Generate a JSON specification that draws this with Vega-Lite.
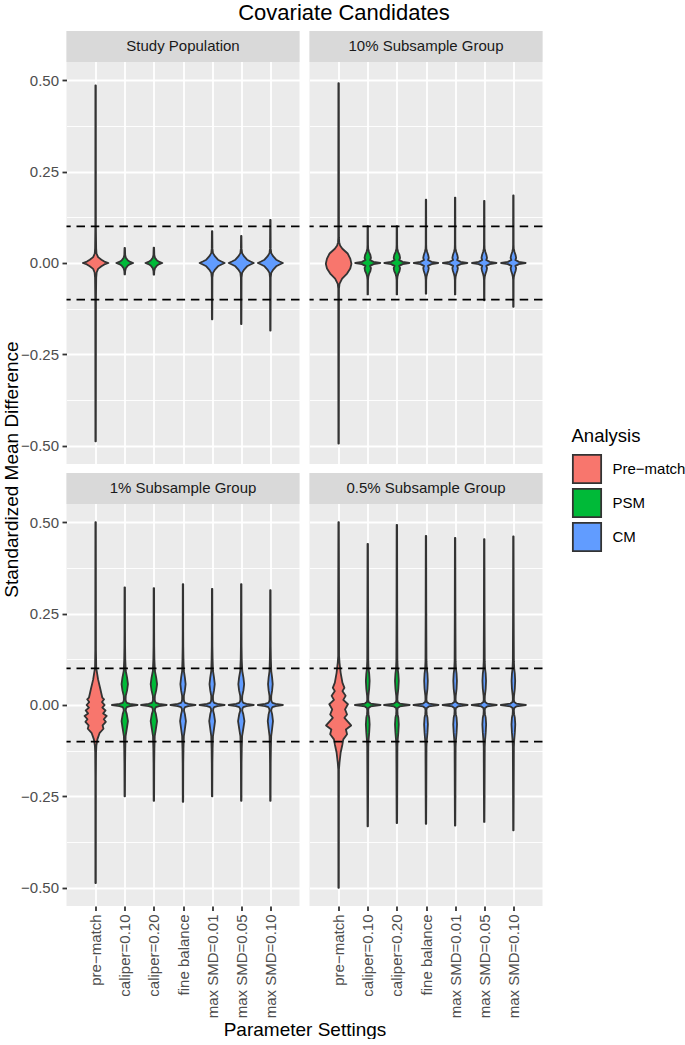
{
  "$schema": "https://vega.github.io/schema/vega-lite/v6.json",
  "background": "white",
  "padding": {"left": 2.5, "top": 2, "right": 0, "bottom": 0},
  "title": {"text": "Covariate Candidates", "fontSize": 22, "fontWeight": "normal", "color": "#000000", "anchor": "middle", "offset": 6, "font": "Liberation Sans"},
  "datasets": {
    "violins": [
      {"panel": "Study Population", "setting": "pre-match", "analysis": "Pre-match", "smd": [0.486,0.1,0.04,0.026,0.016,0.009,0.004,0,-0.004,-0.009,-0.016,-0.026,-0.04,-0.1,-0.488], "hw": [0.008,0.01,0.018,0.03,0.085,0.2,0.3,0.44,0.3,0.2,0.085,0.035,0.02,0.012,0.008]},
      {"panel": "Study Population", "setting": "caliper=0.10", "analysis": "PSM", "smd": [0.041,0.022,0.014,0.007,0.003,0,-0.003,-0.007,-0.014,-0.022,-0.031], "hw": [0.008,0.015,0.04,0.11,0.19,0.29,0.19,0.11,0.04,0.015,0.008]},
      {"panel": "Study Population", "setting": "caliper=0.20", "analysis": "PSM", "smd": [0.042,0.022,0.014,0.007,0.003,0,-0.003,-0.007,-0.014,-0.022,-0.032], "hw": [0.008,0.015,0.04,0.11,0.19,0.29,0.19,0.11,0.04,0.015,0.008]},
      {"panel": "Study Population", "setting": "max SMD=0.01", "analysis": "CM", "smd": [0.087,0.04,0.027,0.018,0.009,0.004,0,-0.004,-0.009,-0.018,-0.027,-0.04,-0.154], "hw": [0.008,0.012,0.03,0.1,0.2,0.32,0.43,0.32,0.2,0.1,0.03,0.012,0.008]},
      {"panel": "Study Population", "setting": "max SMD=0.05", "analysis": "CM", "smd": [0.074,0.04,0.027,0.018,0.009,0.004,0,-0.004,-0.009,-0.018,-0.027,-0.04,-0.167], "hw": [0.008,0.012,0.03,0.1,0.2,0.32,0.43,0.32,0.2,0.1,0.03,0.012,0.008]},
      {"panel": "Study Population", "setting": "max SMD=0.10", "analysis": "CM", "smd": [0.118,0.04,0.027,0.018,0.009,0.004,0,-0.004,-0.009,-0.018,-0.027,-0.04,-0.185], "hw": [0.008,0.012,0.03,0.1,0.2,0.32,0.43,0.32,0.2,0.1,0.03,0.012,0.008]},

      {"panel": "10% Subsample Group", "setting": "pre-match", "analysis": "Pre-match", "smd": [0.492,0.07,0.057,0.048,0.039,0.026,0.012,-0.002,-0.015,-0.029,-0.043,-0.057,-0.07,-0.494], "hw": [0.008,0.012,0.02,0.05,0.13,0.31,0.4,0.44,0.4,0.29,0.12,0.03,0.012,0.008]},
      {"panel": "10% Subsample Group", "setting": "caliper=0.10", "analysis": "PSM", "smd": [0.101,0.05,0.039,0.03,0.022,0.014,0.008,0.003,0,-0.003,-0.008,-0.014,-0.022,-0.03,-0.038,-0.046,-0.086], "hw": [0.008,0.01,0.015,0.045,0.09,0.11,0.08,0.2,0.43,0.2,0.08,0.11,0.09,0.045,0.02,0.01,0.008]},
      {"panel": "10% Subsample Group", "setting": "caliper=0.20", "analysis": "PSM", "smd": [0.101,0.05,0.039,0.03,0.022,0.014,0.008,0.003,0,-0.003,-0.008,-0.014,-0.022,-0.03,-0.038,-0.046,-0.086], "hw": [0.008,0.01,0.015,0.045,0.09,0.11,0.08,0.2,0.43,0.2,0.08,0.11,0.09,0.045,0.02,0.01,0.008]},
      {"panel": "10% Subsample Group", "setting": "fine balance", "analysis": "CM", "smd": [0.173,0.05,0.039,0.03,0.022,0.014,0.008,0.003,0,-0.003,-0.008,-0.014,-0.022,-0.03,-0.038,-0.046,-0.084], "hw": [0.008,0.01,0.014,0.04,0.075,0.095,0.07,0.19,0.42,0.19,0.07,0.095,0.075,0.04,0.018,0.01,0.008]},
      {"panel": "10% Subsample Group", "setting": "max SMD=0.01", "analysis": "CM", "smd": [0.179,0.05,0.039,0.03,0.022,0.014,0.008,0.003,0,-0.003,-0.008,-0.014,-0.022,-0.03,-0.038,-0.046,-0.086], "hw": [0.008,0.01,0.014,0.04,0.075,0.095,0.07,0.19,0.42,0.19,0.07,0.095,0.075,0.04,0.018,0.01,0.008]},
      {"panel": "10% Subsample Group", "setting": "max SMD=0.05", "analysis": "CM", "smd": [0.17,0.05,0.039,0.03,0.022,0.014,0.008,0.003,0,-0.003,-0.008,-0.014,-0.022,-0.03,-0.038,-0.046,-0.102], "hw": [0.008,0.01,0.014,0.04,0.075,0.095,0.07,0.19,0.42,0.19,0.07,0.095,0.075,0.04,0.018,0.01,0.008]},
      {"panel": "10% Subsample Group", "setting": "max SMD=0.10", "analysis": "CM", "smd": [0.185,0.05,0.039,0.03,0.022,0.014,0.008,0.003,0,-0.003,-0.008,-0.014,-0.022,-0.03,-0.038,-0.046,-0.12], "hw": [0.008,0.01,0.014,0.04,0.075,0.095,0.07,0.19,0.42,0.19,0.07,0.095,0.075,0.04,0.018,0.01,0.008]},

      {"panel": "1% Subsample Group", "setting": "pre-match", "analysis": "Pre-match", "smd": [0.5,0.152,0.102,0.07,0.043,0.02,0.0155,0.008,0,-0.007,-0.015,-0.023,-0.03,-0.039,-0.046,-0.056,-0.065,-0.076,-0.094,-0.112,-0.13,-0.2,-0.487], "hw": [0.008,0.012,0.02,0.084,0.164,0.23,0.29,0.22,0.31,0.23,0.34,0.26,0.38,0.28,0.35,0.24,0.27,0.14,0.06,0.025,0.015,0.01,0.008]},
      {"panel": "1% Subsample Group", "setting": "caliper=0.10", "analysis": "PSM", "smd": [0.322,0.2,0.16,0.125,0.093,0.075,0.057,0.04,0.025,0.015,0.01,0.006,0.003,0,-0.003,-0.006,-0.01,-0.016,-0.025,-0.044,-0.065,-0.085,-0.12,-0.16,-0.25], "hw": [0.008,0.01,0.012,0.018,0.035,0.08,0.11,0.08,0.035,0.03,0.04,0.07,0.18,0.44,0.18,0.07,0.04,0.035,0.07,0.11,0.07,0.03,0.018,0.012,0.008]},
      {"panel": "1% Subsample Group", "setting": "caliper=0.20", "analysis": "PSM", "smd": [0.32,0.2,0.16,0.125,0.093,0.075,0.057,0.04,0.025,0.015,0.01,0.006,0.003,0,-0.003,-0.006,-0.01,-0.016,-0.025,-0.044,-0.065,-0.085,-0.12,-0.16,-0.262], "hw": [0.008,0.01,0.012,0.018,0.035,0.08,0.11,0.08,0.035,0.03,0.04,0.07,0.18,0.44,0.18,0.07,0.04,0.035,0.07,0.11,0.07,0.03,0.018,0.012,0.008]},
      {"panel": "1% Subsample Group", "setting": "fine balance", "analysis": "CM", "smd": [0.331,0.2,0.16,0.125,0.093,0.075,0.057,0.04,0.025,0.015,0.01,0.006,0.003,0,-0.003,-0.006,-0.01,-0.016,-0.025,-0.044,-0.065,-0.085,-0.12,-0.16,-0.265], "hw": [0.008,0.01,0.012,0.018,0.03,0.065,0.09,0.065,0.03,0.03,0.04,0.07,0.18,0.43,0.18,0.07,0.04,0.035,0.065,0.1,0.065,0.03,0.018,0.012,0.008]},
      {"panel": "1% Subsample Group", "setting": "max SMD=0.01", "analysis": "CM", "smd": [0.318,0.2,0.16,0.125,0.093,0.075,0.057,0.04,0.025,0.015,0.01,0.006,0.003,0,-0.003,-0.006,-0.01,-0.016,-0.025,-0.044,-0.065,-0.085,-0.12,-0.16,-0.25], "hw": [0.008,0.01,0.012,0.018,0.03,0.065,0.09,0.065,0.03,0.03,0.04,0.07,0.18,0.43,0.18,0.07,0.04,0.035,0.065,0.1,0.065,0.03,0.018,0.012,0.008]},
      {"panel": "1% Subsample Group", "setting": "max SMD=0.05", "analysis": "CM", "smd": [0.331,0.2,0.16,0.125,0.093,0.075,0.057,0.04,0.025,0.015,0.01,0.006,0.003,0,-0.003,-0.006,-0.01,-0.016,-0.025,-0.044,-0.065,-0.085,-0.12,-0.16,-0.262], "hw": [0.008,0.01,0.012,0.018,0.035,0.075,0.1,0.075,0.035,0.03,0.04,0.07,0.18,0.43,0.18,0.07,0.04,0.035,0.07,0.11,0.07,0.03,0.018,0.012,0.008]},
      {"panel": "1% Subsample Group", "setting": "max SMD=0.10", "analysis": "CM", "smd": [0.314,0.2,0.16,0.125,0.093,0.075,0.057,0.04,0.025,0.015,0.01,0.006,0.003,0,-0.003,-0.006,-0.01,-0.016,-0.025,-0.044,-0.065,-0.085,-0.12,-0.16,-0.262], "hw": [0.008,0.01,0.012,0.018,0.03,0.06,0.08,0.06,0.03,0.028,0.04,0.07,0.18,0.43,0.18,0.07,0.04,0.03,0.06,0.09,0.06,0.028,0.018,0.012,0.008]},

      {"panel": "0.5% Subsample Group", "setting": "pre-match", "analysis": "Pre-match", "smd": [0.5,0.26,0.134,0.116,0.088,0.061,0.047,0.038,0.025,0.014,0.002,-0.012,-0.026,-0.035,-0.056,-0.067,-0.08,-0.094,-0.108,-0.13,-0.158,-0.176,-0.25,-0.5], "hw": [0.008,0.015,0.015,0.03,0.07,0.13,0.2,0.13,0.24,0.16,0.32,0.22,0.29,0.2,0.43,0.25,0.29,0.16,0.13,0.07,0.03,0.012,0.01,0.008]},
      {"panel": "0.5% Subsample Group", "setting": "caliper=0.10", "analysis": "PSM", "smd": [0.441,0.25,0.16,0.12,0.098,0.085,0.066,0.045,0.025,0.015,0.008,0.004,0,-0.004,-0.008,-0.015,-0.025,-0.035,-0.053,-0.075,-0.1,-0.115,-0.16,-0.25,-0.332], "hw": [0.008,0.012,0.016,0.018,0.03,0.05,0.065,0.05,0.022,0.018,0.03,0.1,0.44,0.1,0.03,0.018,0.025,0.05,0.065,0.05,0.025,0.018,0.016,0.012,0.008]},
      {"panel": "0.5% Subsample Group", "setting": "caliper=0.20", "analysis": "PSM", "smd": [0.493,0.25,0.16,0.12,0.098,0.085,0.066,0.045,0.025,0.015,0.008,0.004,0,-0.004,-0.008,-0.015,-0.025,-0.035,-0.053,-0.075,-0.1,-0.115,-0.16,-0.25,-0.323], "hw": [0.008,0.012,0.016,0.018,0.03,0.05,0.065,0.05,0.022,0.018,0.03,0.1,0.44,0.1,0.03,0.018,0.025,0.05,0.065,0.05,0.025,0.018,0.016,0.012,0.008]},
      {"panel": "0.5% Subsample Group", "setting": "fine balance", "analysis": "CM", "smd": [0.463,0.25,0.16,0.12,0.098,0.085,0.066,0.045,0.025,0.015,0.008,0.004,0,-0.004,-0.008,-0.015,-0.025,-0.035,-0.053,-0.075,-0.1,-0.115,-0.16,-0.25,-0.325], "hw": [0.008,0.012,0.016,0.018,0.03,0.05,0.062,0.05,0.022,0.018,0.03,0.1,0.43,0.1,0.03,0.018,0.025,0.05,0.065,0.05,0.025,0.018,0.016,0.012,0.008]},
      {"panel": "0.5% Subsample Group", "setting": "max SMD=0.01", "analysis": "CM", "smd": [0.457,0.25,0.16,0.12,0.098,0.085,0.066,0.045,0.025,0.015,0.008,0.004,0,-0.004,-0.008,-0.015,-0.025,-0.035,-0.053,-0.075,-0.1,-0.115,-0.16,-0.25,-0.33], "hw": [0.008,0.012,0.016,0.018,0.03,0.05,0.062,0.05,0.022,0.018,0.03,0.1,0.43,0.1,0.03,0.018,0.025,0.05,0.065,0.05,0.025,0.018,0.016,0.012,0.008]},
      {"panel": "0.5% Subsample Group", "setting": "max SMD=0.05", "analysis": "CM", "smd": [0.454,0.25,0.16,0.12,0.098,0.085,0.066,0.045,0.025,0.015,0.008,0.004,0,-0.004,-0.008,-0.015,-0.025,-0.035,-0.053,-0.075,-0.1,-0.115,-0.16,-0.25,-0.32], "hw": [0.008,0.012,0.016,0.018,0.03,0.05,0.062,0.05,0.022,0.018,0.03,0.1,0.43,0.1,0.03,0.018,0.025,0.05,0.065,0.05,0.025,0.018,0.016,0.012,0.008]},
      {"panel": "0.5% Subsample Group", "setting": "max SMD=0.10", "analysis": "CM", "smd": [0.461,0.25,0.16,0.12,0.098,0.085,0.066,0.045,0.025,0.015,0.008,0.004,0,-0.004,-0.008,-0.015,-0.025,-0.035,-0.053,-0.075,-0.1,-0.115,-0.16,-0.25,-0.343], "hw": [0.008,0.012,0.016,0.018,0.03,0.05,0.062,0.05,0.022,0.018,0.03,0.1,0.43,0.1,0.03,0.018,0.025,0.05,0.065,0.05,0.025,0.018,0.016,0.012,0.008]}
    ],
    "thresholds": [{"smd": 0.1}, {"smd": -0.1}]
  },
  "columns": 2,
  "spacing": {"row": 9, "column": 10},
  "bounds": "flush",
  "resolve": {"scale": {"color": "shared"}, "legend": {"color": "shared"}},
  "concat": [
    {
      "width": 233, "height": 433,
      "layer": [
        {
          "data": {"name": "violins"},
          "transform": [
            {"filter": "datum.panel === 'Study Population'"},
            {"flatten": ["smd", "hw"]},
            {"calculate": "indexof(['pre-match','caliper=0.10','caliper=0.20','fine balance','max SMD=0.01','max SMD=0.05','max SMD=0.10'], datum.setting) + 1", "as": "idx"},
            {"calculate": "datum.idx - datum.hw", "as": "lo"},
            {"calculate": "datum.idx + datum.hw", "as": "hi"}
          ],
          "mark": {"type": "area", "orient": "horizontal", "stroke": "#333333", "strokeWidth": 1.8, "strokeJoin": "round", "opacity": 1, "fillOpacity": 1},
          "encoding": {
            "y": {"field": "smd", "type": "quantitative", "scale": {"domain": [-0.55, 0.6348], "nice": false, "zero": false},
              "axis": {"values": [-0.5,-0.375,-0.25,-0.125,0,0.125,0.25,0.375,0.5], "format": ".2f", "labelExpr": "abs(datum.value*4 - round(datum.value*4)) < 0.001 ? datum.label : ''", "tickOpacity": {"condition": {"test": "abs(datum.value*4 - round(datum.value*4)) < 0.001", "value": 1}, "value": 0}, "grid": true, "gridWidth": {"condition": {"test": "abs(datum.value*4 - round(datum.value*4)) < 0.001", "value": 1.8}, "value": 0.9}, "labelFlush": false, "labelOverlap": false, "title": "Standardized Mean Difference", "titleX": -55, "titleY": 438, "titleAngle": -90, "titleAlign": "center", "titleBaseline": "middle"}},
            "x": {"field": "lo", "type": "quantitative", "scale": {"domain": [0, 8], "nice": false, "zero": false},
              "axis": {"values": [1,2,3,4,5,6,7], "labels": false, "ticks": false, "grid": true, "gridWidth": 1.8, "title": null}},
            "x2": {"field": "hi"},
            "color": {"field": "analysis", "type": "nominal", "scale": {"domain": ["Pre-match", "PSM", "CM"], "range": ["#F8766D", "#00BA38", "#619CFF"]},
              "legend": {"orient": "none", "legendX": 505, "legendY": 396, "title": "Analysis", "labelExpr": "replace(datum.label, '-', '−')", "symbolType": "square", "symbolSize": 800, "symbolStrokeColor": "#333333", "symbolStrokeWidth": 1.8, "symbolOpacity": 1, "rowPadding": -9.5, "labelOffset": 10, "labelFontSize": 15, "labelColor": "#000000", "labelFont": "Liberation Sans", "titleFont": "Liberation Sans", "titleFontSize": 18.5, "titleFontWeight": "normal", "titleColor": "#000000", "titlePadding": 8, "padding": 0}},
            "detail": {"field": "setting"}
          }
        },
        {
          "data": {"name": "thresholds"},
          "mark": {"type": "rule", "color": "#000000", "strokeDash": [8.5, 5.8], "strokeWidth": 1.8},
          "encoding": {"y": {"field": "smd", "type": "quantitative"}}
        },
        {
          "data": {"values": [{"label": "Study Population"}]},
          "mark": {"type": "rect", "color": "#d9d9d9"},
          "encoding": {"y": {"datum": 0.55}, "y2": {"datum": 0.6348}}
        },
        {
          "data": {"values": [{"label": "Study Population"}]},
          "mark": {"type": "text", "fontSize": 15, "color": "#1a1a1a", "align": "center", "baseline": "middle", "font": "Liberation Sans"},
          "encoding": {"text": {"field": "label"}, "y": {"datum": 0.5924}}
        }
      ]
    },
    {
      "width": 233, "height": 433,
      "layer": [
        {
          "data": {"name": "violins"},
          "transform": [
            {"filter": "datum.panel === '10% Subsample Group'"},
            {"flatten": ["smd", "hw"]},
            {"calculate": "indexof(['pre-match','caliper=0.10','caliper=0.20','fine balance','max SMD=0.01','max SMD=0.05','max SMD=0.10'], datum.setting) + 1", "as": "idx"},
            {"calculate": "datum.idx - datum.hw", "as": "lo"},
            {"calculate": "datum.idx + datum.hw", "as": "hi"}
          ],
          "mark": {"type": "area", "orient": "horizontal", "stroke": "#333333", "strokeWidth": 1.8, "strokeJoin": "round", "opacity": 1, "fillOpacity": 1},
          "encoding": {
            "y": {"field": "smd", "type": "quantitative", "scale": {"domain": [-0.55, 0.6348], "nice": false, "zero": false},
              "axis": {"values": [-0.5,-0.375,-0.25,-0.125,0,0.125,0.25,0.375,0.5], "labels": false, "ticks": false, "grid": true, "gridWidth": {"condition": {"test": "abs(datum.value*4 - round(datum.value*4)) < 0.001", "value": 1.8}, "value": 0.9}, "title": null}},
            "x": {"field": "lo", "type": "quantitative", "scale": {"domain": [0, 8], "nice": false, "zero": false},
              "axis": {"values": [1,2,3,4,5,6,7], "labels": false, "ticks": false, "grid": true, "gridWidth": 1.8, "title": null}},
            "x2": {"field": "hi"},
            "color": {"field": "analysis", "type": "nominal", "scale": {"domain": ["Pre-match", "PSM", "CM"], "range": ["#F8766D", "#00BA38", "#619CFF"]},
              "legend": {"orient": "none", "legendX": 505, "legendY": 396, "title": "Analysis", "labelExpr": "replace(datum.label, '-', '−')", "symbolType": "square", "symbolSize": 800, "symbolStrokeColor": "#333333", "symbolStrokeWidth": 1.8, "symbolOpacity": 1, "rowPadding": -9.5, "labelOffset": 10, "labelFontSize": 15, "labelColor": "#000000", "labelFont": "Liberation Sans", "titleFont": "Liberation Sans", "titleFontSize": 18.5, "titleFontWeight": "normal", "titleColor": "#000000", "titlePadding": 8, "padding": 0}},
            "detail": {"field": "setting"}
          }
        },
        {
          "data": {"name": "thresholds"},
          "mark": {"type": "rule", "color": "#000000", "strokeDash": [8.5, 5.8], "strokeWidth": 1.8},
          "encoding": {"y": {"field": "smd", "type": "quantitative"}}
        },
        {
          "data": {"values": [{"label": "10% Subsample Group"}]},
          "mark": {"type": "rect", "color": "#d9d9d9"},
          "encoding": {"y": {"datum": 0.55}, "y2": {"datum": 0.6348}}
        },
        {
          "data": {"values": [{"label": "10% Subsample Group"}]},
          "mark": {"type": "text", "fontSize": 15, "color": "#1a1a1a", "align": "center", "baseline": "middle", "font": "Liberation Sans"},
          "encoding": {"text": {"field": "label"}, "y": {"datum": 0.5924}}
        }
      ]
    },
    {
      "width": 233, "height": 433,
      "layer": [
        {
          "data": {"name": "violins"},
          "transform": [
            {"filter": "datum.panel === '1% Subsample Group'"},
            {"flatten": ["smd", "hw"]},
            {"calculate": "indexof(['pre-match','caliper=0.10','caliper=0.20','fine balance','max SMD=0.01','max SMD=0.05','max SMD=0.10'], datum.setting) + 1", "as": "idx"},
            {"calculate": "datum.idx - datum.hw", "as": "lo"},
            {"calculate": "datum.idx + datum.hw", "as": "hi"}
          ],
          "mark": {"type": "area", "orient": "horizontal", "stroke": "#333333", "strokeWidth": 1.8, "strokeJoin": "round", "opacity": 1, "fillOpacity": 1},
          "encoding": {
            "y": {"field": "smd", "type": "quantitative", "scale": {"domain": [-0.55, 0.6348], "nice": false, "zero": false},
              "axis": {"values": [-0.5,-0.375,-0.25,-0.125,0,0.125,0.25,0.375,0.5], "format": ".2f", "labelExpr": "abs(datum.value*4 - round(datum.value*4)) < 0.001 ? datum.label : ''", "tickOpacity": {"condition": {"test": "abs(datum.value*4 - round(datum.value*4)) < 0.001", "value": 1}, "value": 0}, "grid": true, "gridWidth": {"condition": {"test": "abs(datum.value*4 - round(datum.value*4)) < 0.001", "value": 1.8}, "value": 0.9}, "labelFlush": false, "labelOverlap": false, "title": null}},
            "x": {"field": "lo", "type": "quantitative", "scale": {"domain": [0, 8], "nice": false, "zero": false},
              "axis": {"values": [1,2,3,4,5,6,7], "labelExpr": "['pre−match','caliper=0.10','caliper=0.20','fine balance','max SMD=0.01','max SMD=0.05','max SMD=0.10'][datum.value - 1]", "labelAngle": -90, "labelFlush": false, "labelOverlap": false, "labelBound": false, "grid": true, "gridWidth": 1.8, "title": "Parameter Settings", "titleX": 238, "titleY": 129, "titleAlign": "center", "titleBaseline": "alphabetic"}},
            "x2": {"field": "hi"},
            "color": {"field": "analysis", "type": "nominal", "scale": {"domain": ["Pre-match", "PSM", "CM"], "range": ["#F8766D", "#00BA38", "#619CFF"]},
              "legend": {"orient": "none", "legendX": 505, "legendY": 396, "title": "Analysis", "labelExpr": "replace(datum.label, '-', '−')", "symbolType": "square", "symbolSize": 800, "symbolStrokeColor": "#333333", "symbolStrokeWidth": 1.8, "symbolOpacity": 1, "rowPadding": -9.5, "labelOffset": 10, "labelFontSize": 15, "labelColor": "#000000", "labelFont": "Liberation Sans", "titleFont": "Liberation Sans", "titleFontSize": 18.5, "titleFontWeight": "normal", "titleColor": "#000000", "titlePadding": 8, "padding": 0}},
            "detail": {"field": "setting"}
          }
        },
        {
          "data": {"name": "thresholds"},
          "mark": {"type": "rule", "color": "#000000", "strokeDash": [8.5, 5.8], "strokeWidth": 1.8},
          "encoding": {"y": {"field": "smd", "type": "quantitative"}}
        },
        {
          "data": {"values": [{"label": "1% Subsample Group"}]},
          "mark": {"type": "rect", "color": "#d9d9d9"},
          "encoding": {"y": {"datum": 0.55}, "y2": {"datum": 0.6348}}
        },
        {
          "data": {"values": [{"label": "1% Subsample Group"}]},
          "mark": {"type": "text", "fontSize": 15, "color": "#1a1a1a", "align": "center", "baseline": "middle", "font": "Liberation Sans"},
          "encoding": {"text": {"field": "label"}, "y": {"datum": 0.5924}}
        }
      ]
    },
    {
      "width": 233, "height": 433,
      "layer": [
        {
          "data": {"name": "violins"},
          "transform": [
            {"filter": "datum.panel === '0.5% Subsample Group'"},
            {"flatten": ["smd", "hw"]},
            {"calculate": "indexof(['pre-match','caliper=0.10','caliper=0.20','fine balance','max SMD=0.01','max SMD=0.05','max SMD=0.10'], datum.setting) + 1", "as": "idx"},
            {"calculate": "datum.idx - datum.hw", "as": "lo"},
            {"calculate": "datum.idx + datum.hw", "as": "hi"}
          ],
          "mark": {"type": "area", "orient": "horizontal", "stroke": "#333333", "strokeWidth": 1.8, "strokeJoin": "round", "opacity": 1, "fillOpacity": 1},
          "encoding": {
            "y": {"field": "smd", "type": "quantitative", "scale": {"domain": [-0.55, 0.6348], "nice": false, "zero": false},
              "axis": {"values": [-0.5,-0.375,-0.25,-0.125,0,0.125,0.25,0.375,0.5], "labels": false, "ticks": false, "grid": true, "gridWidth": {"condition": {"test": "abs(datum.value*4 - round(datum.value*4)) < 0.001", "value": 1.8}, "value": 0.9}, "title": null}},
            "x": {"field": "lo", "type": "quantitative", "scale": {"domain": [0, 8], "nice": false, "zero": false},
              "axis": {"values": [1,2,3,4,5,6,7], "labelExpr": "['pre−match','caliper=0.10','caliper=0.20','fine balance','max SMD=0.01','max SMD=0.05','max SMD=0.10'][datum.value - 1]", "labelAngle": -90, "labelFlush": false, "labelOverlap": false, "labelBound": false, "grid": true, "gridWidth": 1.8, "title": null}},
            "x2": {"field": "hi"},
            "color": {"field": "analysis", "type": "nominal", "scale": {"domain": ["Pre-match", "PSM", "CM"], "range": ["#F8766D", "#00BA38", "#619CFF"]},
              "legend": {"orient": "none", "legendX": 505, "legendY": 396, "title": "Analysis", "labelExpr": "replace(datum.label, '-', '−')", "symbolType": "square", "symbolSize": 800, "symbolStrokeColor": "#333333", "symbolStrokeWidth": 1.8, "symbolOpacity": 1, "rowPadding": -9.5, "labelOffset": 10, "labelFontSize": 15, "labelColor": "#000000", "labelFont": "Liberation Sans", "titleFont": "Liberation Sans", "titleFontSize": 18.5, "titleFontWeight": "normal", "titleColor": "#000000", "titlePadding": 8, "padding": 0}},
            "detail": {"field": "setting"}
          }
        },
        {
          "data": {"name": "thresholds"},
          "mark": {"type": "rule", "color": "#000000", "strokeDash": [8.5, 5.8], "strokeWidth": 1.8},
          "encoding": {"y": {"field": "smd", "type": "quantitative"}}
        },
        {
          "data": {"values": [{"label": "0.5% Subsample Group"}]},
          "mark": {"type": "rect", "color": "#d9d9d9"},
          "encoding": {"y": {"datum": 0.55}, "y2": {"datum": 0.6348}}
        },
        {
          "data": {"values": [{"label": "0.5% Subsample Group"}]},
          "mark": {"type": "text", "fontSize": 15, "color": "#1a1a1a", "align": "center", "baseline": "middle", "font": "Liberation Sans"},
          "encoding": {"text": {"field": "label"}, "y": {"datum": 0.5924}}
        }
      ]
    }
  ],
  "config": {
    "font": "Liberation Sans",
    "view": {"fill": "#ebebeb", "stroke": null},
    "axis": {"domain": false, "gridColor": "#ffffff", "labelFont": "Liberation Sans", "labelFontSize": 15, "labelColor": "#4d4d4d", "tickColor": "#333333", "tickSize": 4.5, "tickWidth": 1.8, "labelPadding": 3.5, "titleFont": "Liberation Sans", "titleFontSize": 19, "titleFontWeight": "normal", "titleColor": "#000000"}
  }
}
